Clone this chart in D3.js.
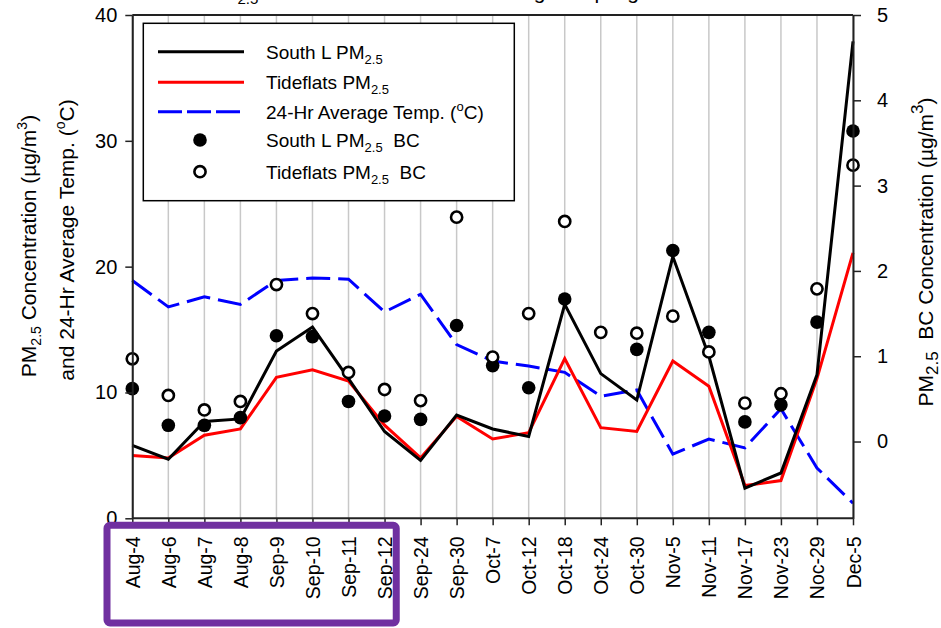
<!DOCTYPE html>
<html>
<head>
<meta charset="utf-8">
<script src="https://cdn.jsdelivr.net/npm/d3@7"></script>
<style>
  body { margin: 0; background: #fff; }
  svg text { font-family: "Liberation Sans", Arial, sans-serif; }
</style>
</head>
<body>
<div id="myChart"></div>
<script>
// sampling days
const dates = ["Aug-4","Aug-6","Aug-7","Aug-8","Sep-9","Sep-10","Sep-11","Sep-12","Sep-24","Sep-30",
  "Oct-7","Oct-12","Oct-18","Oct-24","Oct-30","Nov-5","Nov-11","Nov-17","Nov-23","Noc-29","Dec-5"];

// left axis series (ug/m3 and deg C)
const southL = [5.8,4.7,7.7,7.9,13.3,15.2,11.1,6.9,4.6,8.2,7.1,6.5,17.0,11.5,9.4,20.8,12.9,2.4,3.6,11.4,37.9];
const tideflats = [5.0,4.8,6.6,7.1,11.2,11.8,10.9,7.4,4.8,8.1,6.3,6.8,12.7,7.2,6.9,12.5,10.5,2.6,3.0,11.1,21.1];
const temp = [18.9,16.8,17.6,17.0,18.9,19.1,19.0,16.4,17.8,13.8,12.5,12.1,11.6,9.7,10.2,5.1,6.3,5.6,8.7,4.0,1.2];

// right axis series (BC, ug/m3)
const southBC = [0.62,0.19,0.19,0.28,1.24,1.23,0.47,0.30,0.26,1.36,0.89,0.63,1.67,null,1.08,2.24,1.28,0.23,0.43,1.40,3.64];
const tideBC = [0.97,0.54,0.37,0.47,1.84,1.50,0.81,0.61,0.48,2.63,0.99,1.50,2.58,1.28,1.27,1.47,1.05,0.45,0.56,1.79,3.24];

const leftTicks = [0,10,20,30,40];
const rightTicks = [0,1,2,3,4,5];

let width = 941;
let height = 628;

let svg = d3.select("#myChart").append("svg")
  .attr("width", width)
  .attr("height", height);

// scales
var x = d3.scalePoint().domain(dates).range([132.3, 853]);
var yL = d3.scaleLinear().domain([0, 40]).range([518.3, 15]);
var yR = d3.scaleLinear().domain([-0.9, 5]).range([518.3, 15]);

// title (mostly cut off at the top edge, as in the original)
svg.append("text")
  .attr("x", 206).attr("y", -1)
  .attr("font-size", 21)
  .call(t => {
    t.append("tspan").text("PM");
    t.append("tspan").attr("font-size", 15).attr("dy", 5).text("2.5");
    t.append("tspan").attr("dy", -5).text(" and BC Concentrations during Sampling Period");
  });

// vertical grid
svg.append("g")
  .selectAll("line")
  .data(dates)
  .enter()
  .append("line")
  .attr("x1", d => x(d)).attr("x2", d => x(d))
  .attr("y1", yL(40)).attr("y2", yL(0))
  .attr("stroke", "#c8c8c8")
  .attr("stroke-width", 1.5);

// lines
function drawLine(values, scale, color, dash) {
  var line = d3.line()
    .defined(d => d != null)
    .x((d, i) => x(dates[i]))
    .y(d => scale(d));
  svg.append("path")
    .datum(values)
    .attr("d", line)
    .attr("fill", "none")
    .attr("stroke", color)
    .attr("stroke-width", 3)
    .attr("stroke-dasharray", dash || null);
}
drawLine(temp, yL, "#0000ff", "24,8");
drawLine(tideflats, yL, "#ff0000");
drawLine(southL, yL, "#000000");

// BC dots
svg.append("g")
  .selectAll("circle")
  .data(southBC.map((v, i) => [dates[i], v]).filter(d => d[1] != null))
  .enter()
  .append("circle")
  .attr("cx", d => x(d[0]))
  .attr("cy", d => yR(d[1]))
  .attr("r", 6.8)
  .attr("fill", "#000");

svg.append("g")
  .selectAll("circle")
  .data(tideBC.map((v, i) => [dates[i], v]).filter(d => d[1] != null))
  .enter()
  .append("circle")
  .attr("cx", d => x(d[0]))
  .attr("cy", d => yR(d[1]))
  .attr("r", 5.6)
  .attr("fill", "#fff")
  .attr("stroke", "#000")
  .attr("stroke-width", 2.6);

// legend
var lg = svg.append("g");
lg.append("rect")
  .attr("x", 143.3).attr("y", 23.3)
  .attr("width", 371).attr("height", 177.4)
  .attr("fill", "#fff")
  .attr("stroke", "#000")
  .attr("stroke-width", 1.5);

var legendRows = [
  { y: 51.7, kind: "line", color: "#000", main: "South L PM", sub: "2.5", rest: "" },
  { y: 82.3, kind: "line", color: "#ff0000", main: "Tideflats PM", sub: "2.5", rest: "" },
  { y: 111.7, kind: "dash", color: "#0000ff", main: "24-Hr Average Temp. (", sup: "o", rest: "C)" },
  { y: 140, kind: "filled", main: "South L PM", sub: "2.5", rest: "  BC" },
  { y: 171.7, kind: "open", main: "Tideflats PM", sub: "2.5", rest: "  BC" }
];
legendRows.forEach(r => {
  if (r.kind === "line" || r.kind === "dash") {
    lg.append("line")
      .attr("x1", 158).attr("x2", 244)
      .attr("y1", r.y).attr("y2", r.y)
      .attr("stroke", r.color)
      .attr("stroke-width", 3)
      .attr("stroke-dasharray", r.kind === "dash" ? "24,5" : null);
  } else if (r.kind === "filled") {
    lg.append("circle").attr("cx", 200).attr("cy", r.y).attr("r", 6.8).attr("fill", "#000");
  } else {
    lg.append("circle").attr("cx", 200).attr("cy", r.y).attr("r", 5.6)
      .attr("fill", "#fff").attr("stroke", "#000").attr("stroke-width", 2.6);
  }
  var t = lg.append("text").attr("x", 266).attr("y", r.y + 7).attr("font-size", 19);
  t.append("tspan").text(r.main);
  if (r.sub) {
    t.append("tspan").attr("font-size", 13).attr("dy", 5).text(r.sub);
    t.append("tspan").attr("dy", -5).text(r.rest);
  }
  if (r.sup) {
    t.append("tspan").attr("font-size", 13).attr("dy", -8).text(r.sup);
    t.append("tspan").attr("dy", 8).text(r.rest);
  }
});
lg.selectAll("text").attr("xml:space", "preserve");

// axes
function styleAxis(g, size) {
  g.select(".domain").attr("stroke", "#222").attr("stroke-width", 2);
  g.selectAll(".tick line").attr("stroke", "#222").attr("stroke-width", 1.5);
  g.selectAll(".tick text").attr("font-size", size).attr("fill", "#000")
    .attr("font-family", "Liberation Sans, Arial, sans-serif");
}

svg.append("g")
  .attr("transform", "translate(132.3,0)")
  .call(d3.axisLeft(yL).tickValues(leftTicks).tickFormat(d3.format("d"))
    .tickSize(7).tickPadding(8).tickSizeOuter(0))
  .call(g => styleAxis(g, 20));

svg.append("g")
  .attr("transform", "translate(853,0)")
  .call(d3.axisRight(yR).tickValues(rightTicks).tickFormat(d3.format("d"))
    .tickSize(8).tickPadding(16).tickSizeOuter(0))
  .call(g => styleAxis(g, 20));

// top frame line
svg.append("line")
  .attr("x1", 132.3).attr("x2", 853)
  .attr("y1", 15).attr("y2", 15)
  .attr("stroke", "#222").attr("stroke-width", 2);

var xAxis = svg.append("g")
  .attr("transform", "translate(0,518.3)")
  .call(d3.axisBottom(x).tickSize(7).tickSizeOuter(0))
  .call(g => styleAxis(g, 19.5));
xAxis.select(".domain").attr("d", "M132.3,0H853");
xAxis.selectAll(".tick text")
  .attr("transform", "rotate(-90)")
  .attr("text-anchor", "end")
  .attr("x", -18)
  .attr("y", 0)
  .attr("dy", "0.36em");

// left axis title (two lines)
var lt = svg.append("text")
  .attr("transform", "translate(36,246) rotate(-90)")
  .attr("text-anchor", "middle")
  .attr("font-size", 21);
lt.append("tspan").text("PM");
lt.append("tspan").attr("font-size", 14).attr("dy", 5).text("2.5");
lt.append("tspan").attr("dy", -5).text(" Concentration (\u00b5g/m");
lt.append("tspan").attr("font-size", 14).attr("dy", -9).text("3");
lt.append("tspan").attr("dy", 9).text(")");

var lt2 = svg.append("text")
  .attr("transform", "translate(74,240) rotate(-90)")
  .attr("text-anchor", "middle")
  .attr("font-size", 21);
lt2.append("tspan").text("and 24-Hr Average Temp. (");
lt2.append("tspan").attr("font-size", 14).attr("dy", -9).text("o");
lt2.append("tspan").attr("dy", 9).text("C)");

// right axis title
var rt = svg.append("text")
  .attr("transform", "translate(933,252) rotate(-90)")
  .attr("text-anchor", "middle")
  .attr("font-size", 21)
  .attr("xml:space", "preserve");
rt.append("tspan").text("PM");
rt.append("tspan").attr("font-size", 17).attr("dy", 5).text("2.5");
rt.append("tspan").attr("dy", -5).text("  BC Concentration (\u00b5g/m");
rt.append("tspan").attr("font-size", 17).attr("dy", -10).text("3");
rt.append("tspan").attr("dy", 10).text(")");

// purple highlight box over the first eight dates
svg.append("rect")
  .attr("x", x("Aug-4") - 25.3).attr("y", 525.3)
  .attr("width", x("Sep-12") - x("Aug-4") + 37).attr("height", 97.7)
  .attr("rx", 3)
  .attr("fill", "none")
  .attr("stroke", "#7030a0")
  .attr("stroke-width", 7);
</script>
</body>
</html>
